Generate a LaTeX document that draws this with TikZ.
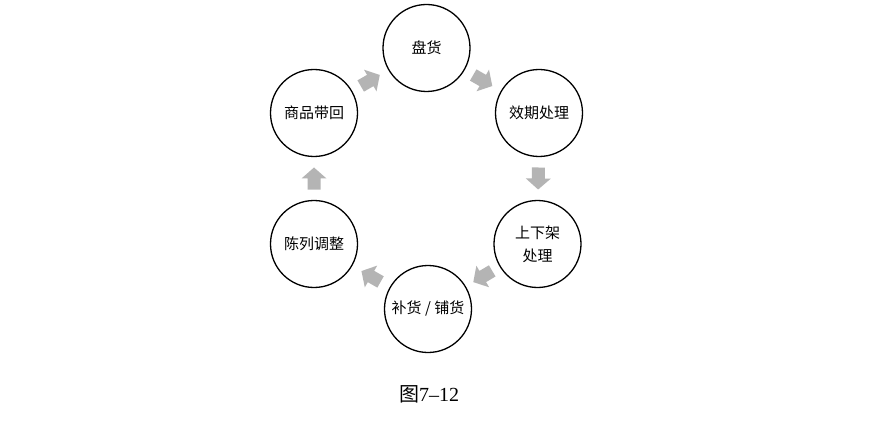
\documentclass[tikz,border=0pt]{standalone}
\usepackage{fontspec}
\setmainfont{Liberation Serif}
\newfontfamily\cjk{Noto Sans CJK SC}
\usetikzlibrary{calc}
\definecolor{arrowgray}{HTML}{B4B4B4}
\tikzset{
  stage/.style={circle, draw=black, line width=1.3pt, minimum size=87pt, inner sep=0pt, align=center, font=\cjk\fontsize{15}{23}\selectfont},
  blockarrow/.pic={\fill[arrowgray] (-11pt,-6.5pt) -- (0pt,-6.5pt) -- (0pt,-12.5pt) -- (11pt,0pt) -- (0pt,12.5pt) -- (0pt,6.5pt) -- (-11pt,6.5pt) -- cycle;}
}
\newcommand{\flowarrow}[2]{\path let \p1=($(#2)-(#1)$), \n1={atan2(\y1,\x1)} in pic[rotate=\n1] at ($(#1)!0.5!(#2)$) {blockarrow};}
\begin{document}
\begin{tikzpicture}[x=1pt,y=1pt]
\useasboundingbox[fill=white] (0,0) rectangle (883,421);
\node[stage] (pan) at (426.5,373) {盘货};
\node[stage] (xiao) at (539,308) {效期处理};
\node[stage] (sxj) at (537.5,177) {上下架\\处理};
\node[stage] (bu) at (428,112) {补货 / 铺货};
\node[stage] (chen) at (314,177) {陈列调整};
\node[stage] (shang) at (314,308) {商品带回};
\flowarrow{shang}{pan}
\flowarrow{pan}{xiao}
\flowarrow{xiao}{sxj}
\flowarrow{sxj}{bu}
\flowarrow{bu}{chen}
\flowarrow{chen}{shang}
\node[font=\fontsize{20}{24}\selectfont] (cap) at (429,27) {{\cjk 图}7\textendash 12};
\end{tikzpicture}
\end{document}
